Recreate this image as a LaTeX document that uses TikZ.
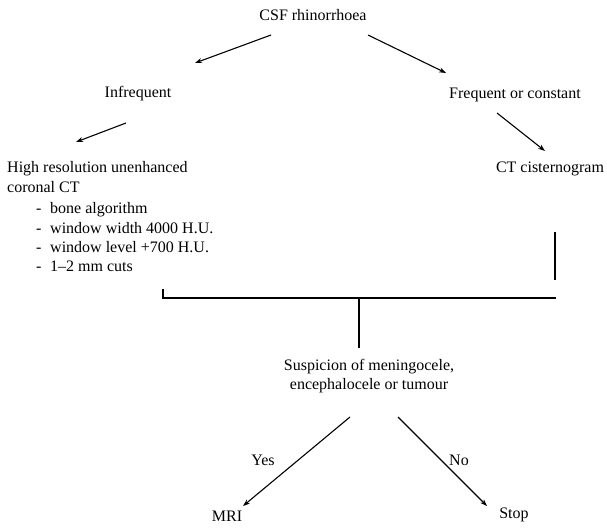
\documentclass[tikz,border=0pt]{standalone}
\usepackage{fontspec}
\setmainfont{Liberation Serif}
\usetikzlibrary{arrows.meta}
\begin{document}
\begin{tikzpicture}[x=1pt,y=-1pt,
  txt/.style={inner sep=0pt,font=\fontsize{16}{19.5}\selectfont},
  arr/.style={line width=1.1pt,-{Stealth[length=7pt,width=5pt]}},
  barline/.style={line width=2pt},
  vline/.style={line width=1.6pt},
  thinvline/.style={line width=1.2pt}]
\useasboundingbox[fill=white] (0,0) rectangle (607,527);
% texts
\node[txt,anchor=base] (csf) at (313,20.5) {CSF rhinorrhoea};
\node[txt,anchor=base] (infreq) at (138,97.5) {Infrequent};
\node[txt,anchor=base] (freq) at (515,98.5) {Frequent or constant};
\node[txt,anchor=base west] (hr1) at (7,172.5) {High resolution unenhanced};
\node[txt,anchor=base west] (hr2) at (7,192.5) {coronal CT};
\node[txt,anchor=base west] (b1) at (36,213.5) {-\hspace{8.7pt}bone algorithm};
\node[txt,anchor=base west] (b2) at (36,233) {-\hspace{8.7pt}window width 4000 H.U.};
\node[txt,anchor=base west] (b3) at (36,252.5) {-\hspace{8.7pt}window level +700 H.U.};
\node[txt,anchor=base west] (b4) at (36,271) {-\hspace{8.7pt}1--2 mm cuts};
\node[txt,anchor=base] (ctc) at (550,172.5) {CT cisternogram};
\node[txt,anchor=base] (susp1) at (369,370.5) {Suspicion of meningocele,};
\node[txt,anchor=base] (susp2) at (369,389) {encephalocele or tumour};
\node[txt,anchor=base] (mri) at (227,521.5) {MRI};
\node[txt,anchor=base] (stop) at (514,518.5) {Stop};
% arrows
\draw[arr] ([shift={(-42,14.5)}]csf.base) -- ([shift={(57,-34.5)}]infreq.base);
\draw[arr] ([shift={(55,14.5)}]csf.base) -- ([shift={(-69,-25.5)}]freq.base);
\draw[arr] ([shift={(-12,25.5)}]infreq.base) -- ([shift={(69,-30.5)}]hr1.base west);
\draw[arr] ([shift={(-18,14.5)}]freq.base) -- ([shift={(-5,-21.5)}]ctc.base);
% bracket
\coordinate (barL) at (163,298);
\coordinate (barR) at (556,298);
\coordinate (barM) at (359,298);
\draw[thinvline] ([shift={(5,59.5)}]ctc.base) -- ([shift={(5,107.5)}]ctc.base);
\draw[barline] ([shift={(0,-9)}]barL) -- (barL) -- (barR);
\draw[vline] (barM) -- ([shift={(-10,-22.5)}]susp1.base);
% yes / no
\draw[arr] ([shift={(-19,28)}]susp2.base) -- ([shift={(16,-15.5)}]mri.base);
\draw[arr] ([shift={(29,28)}]susp2.base) -- ([shift={(-27,-12.5)}]stop.base);
\node[txt,anchor=base] (yeslbl) at (263,465.5) {Yes};
\node[txt,anchor=base] (nolbl) at (459,465.5) {No};
\end{tikzpicture}
\end{document}
